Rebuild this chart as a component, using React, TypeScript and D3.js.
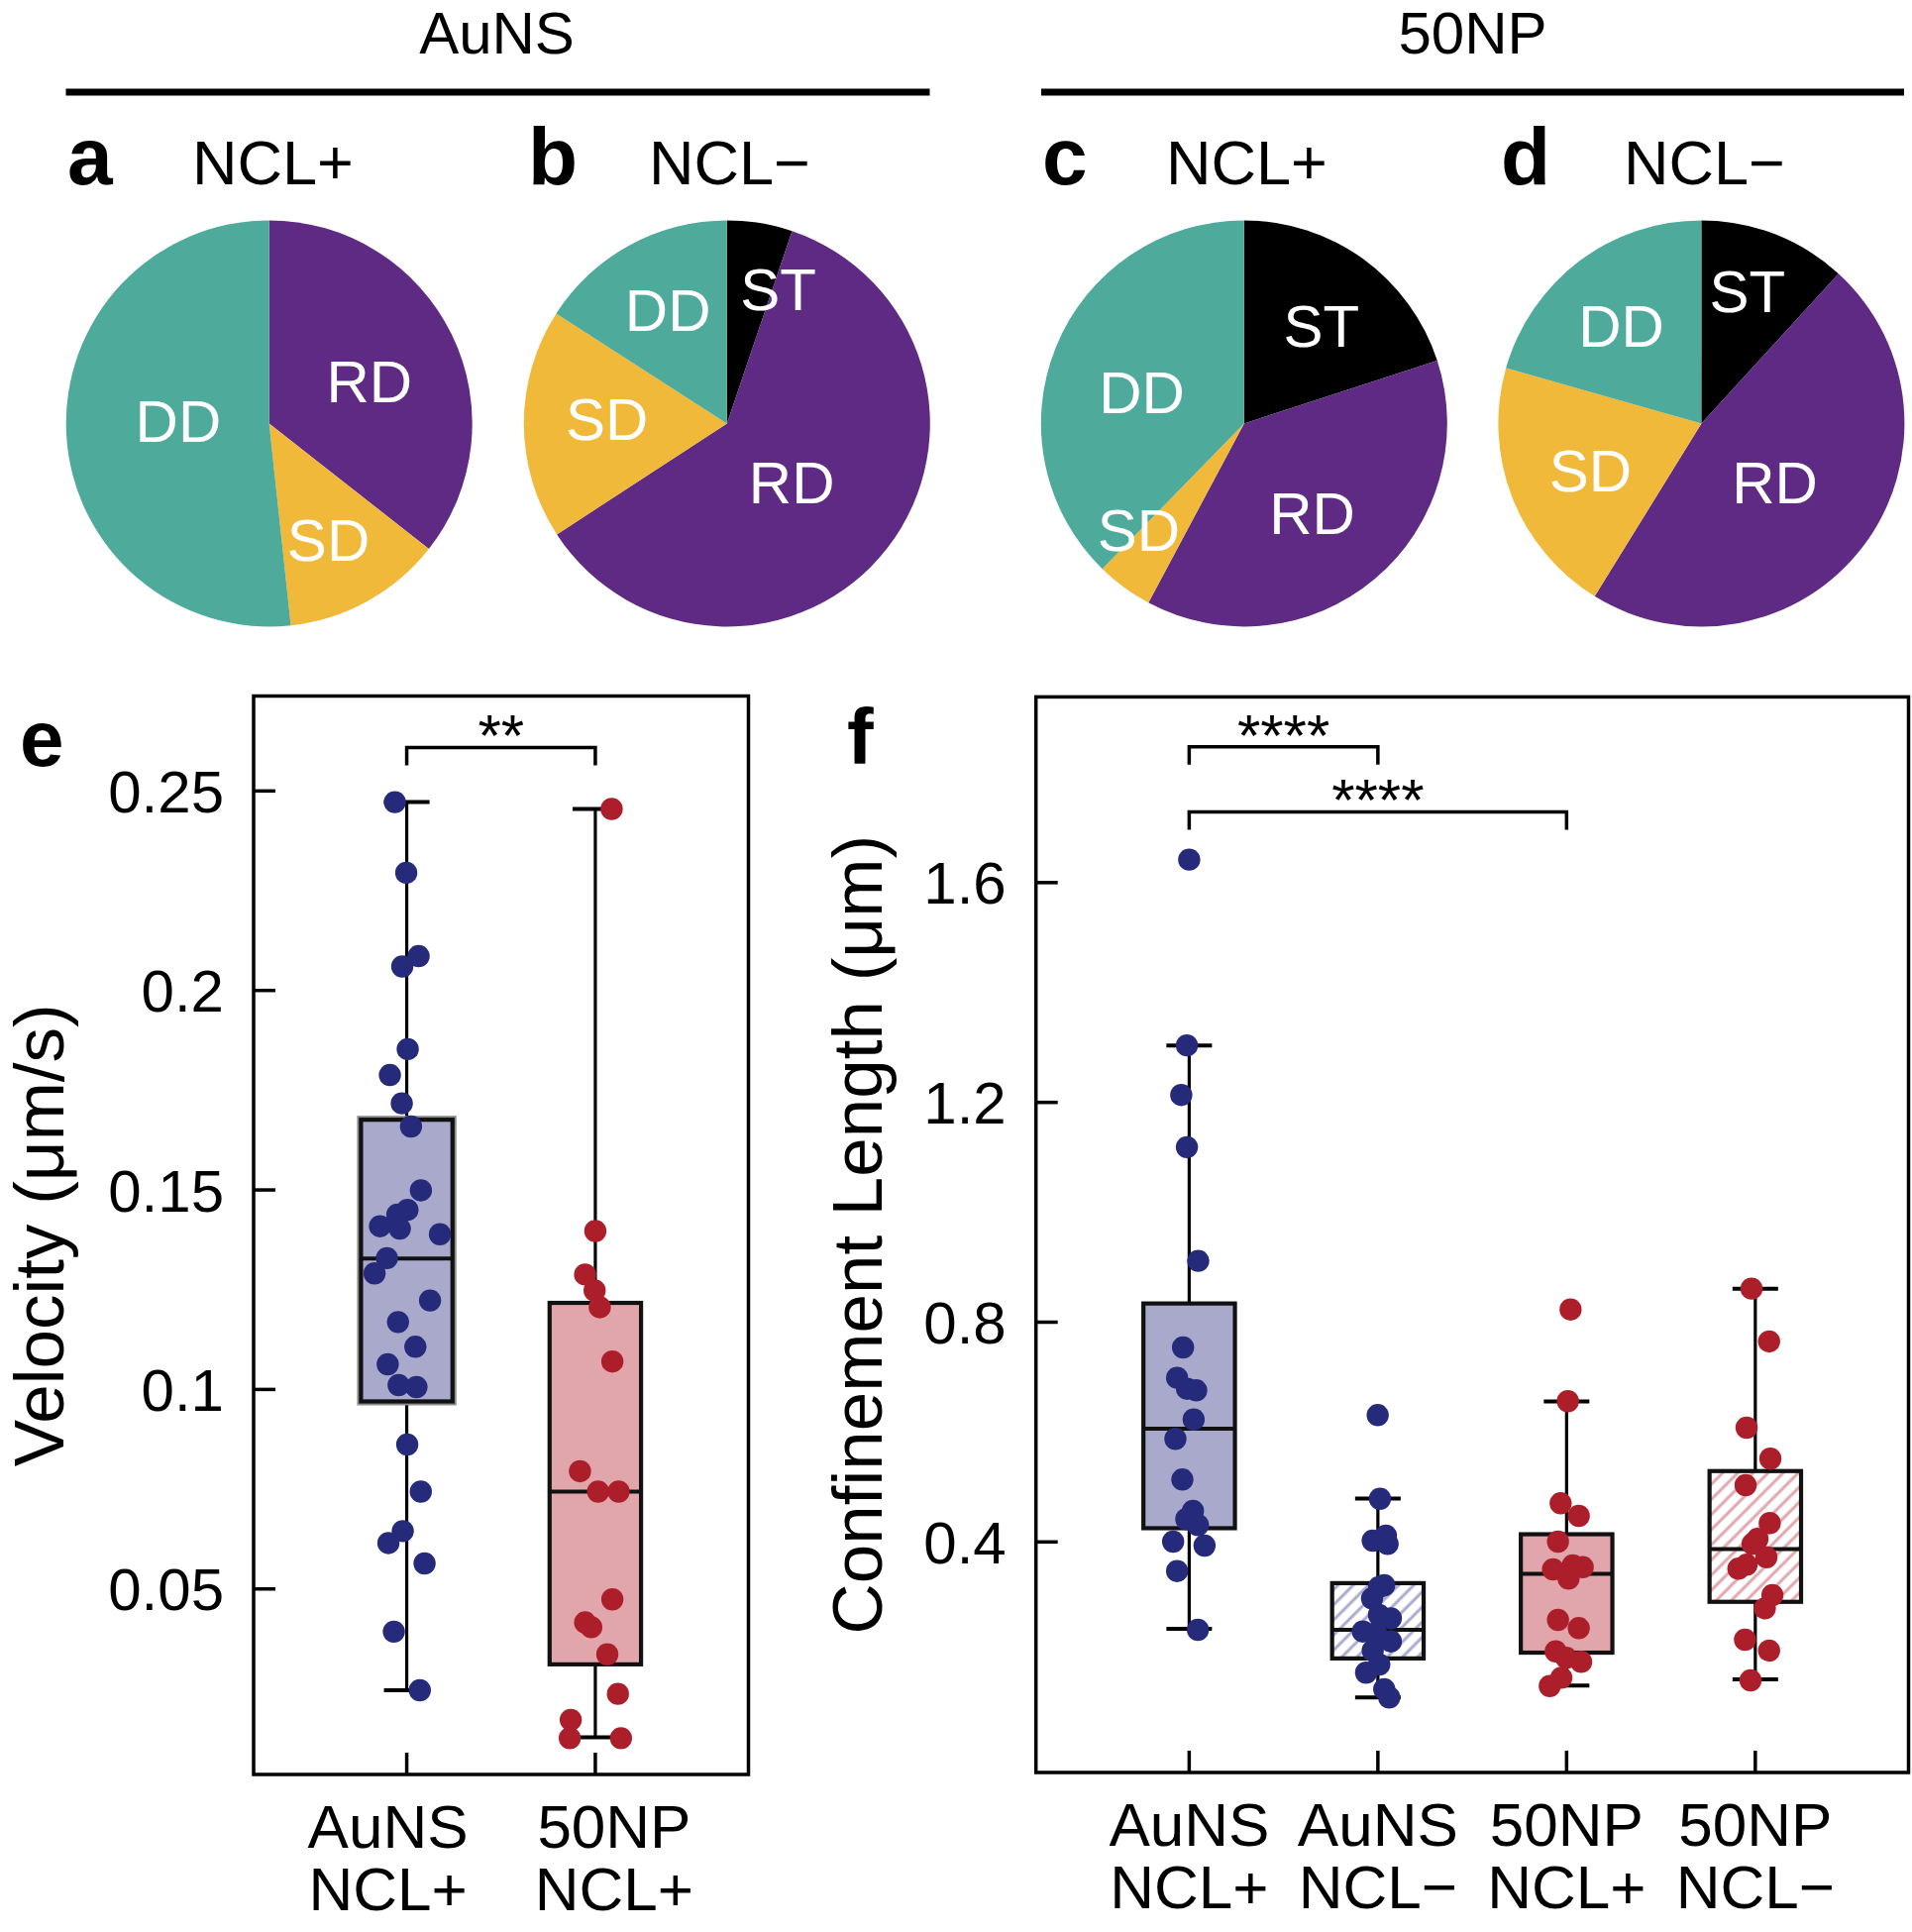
import React from 'react';
import * as d3 from 'd3';

const W = 1930;
const H = 1950;
const FONT = '"Liberation Sans", Arial, Helvetica, sans-serif';

// ---------- Pie data (percent) ----------
const pieCategories = ['ST', 'RD', 'SD', 'DD'];
const pieGroupTitles = ['AuNS', '50NP'];
const piePanelLetters = ['a', 'b', 'c', 'd'];
const piePanelTitles = ['NCL+', 'NCL\u2212', 'NCL+', 'NCL\u2212'];
const pieAuNSPlus = [0, 35.6, 12.7, 51.7];
const pieAuNSMinus = [5.2, 60.6, 18.3, 15.9];
const pie50NPPlus = [20.0, 37.8, 4.5, 37.7];
const pie50NPMinus = [11.8, 47.0, 20.6, 20.6];

// ---------- Velocity (panel e) ----------
const veloCategories = ['AuNS NCL+', '50NP NCL+'];
const veloAuNSPlus = [0.2472, 0.2295, 0.2086, 0.206, 0.1853, 0.1788, 0.1717, 0.1659, 0.1499, 0.145, 0.1438, 0.1409, 0.1403, 0.1389, 0.1329, 0.1291, 0.1223, 0.1169, 0.1107, 0.1063, 0.1011, 0.1006, 0.0862, 0.0744, 0.0645, 0.0615, 0.0564, 0.0393, 0.0246];
const velo50NPPlus = [0.2455, 0.1397, 0.1288, 0.1248, 0.1206, 0.107, 0.0795, 0.0744, 0.0744, 0.0474, 0.0416, 0.0404, 0.0336, 0.0237, 0.0172, 0.0126, 0.0126];
// [low whisker, Q1, median, Q3, high whisker]
const veloStats = [
  [0.0246, 0.097, 0.1328, 0.1676, 0.2472],
  [0.0128, 0.0311, 0.0744, 0.1217, 0.2455],
];
const veloTicks = [0.05, 0.1, 0.15, 0.2, 0.25];
const veloTickLabels = ['0.05', '0.1', '0.15', '0.2', '0.25'];

// ---------- Confinement length (panel f) ----------
const confCategories = ['AuNS NCL+', 'AuNS NCL\u2212', '50NP NCL+', '50NP NCL\u2212'];
const confAuNSPlus = [1.6418, 1.3037, 1.2135, 1.1185, 0.9116, 0.754, 0.6987, 0.6788, 0.6759, 0.6229, 0.5876, 0.5136, 0.4566, 0.4415, 0.4307, 0.4005, 0.3933, 0.347, 0.24];
const confAuNSMinus = [0.6308, 0.4786, 0.4114, 0.4024, 0.3964, 0.3212, 0.3176, 0.2972, 0.2671, 0.2611, 0.237, 0.2341, 0.219, 0.2022, 0.177, 0.162, 0.1319, 0.117];
const conf50NPPlus = [0.8231, 0.6561, 0.4703, 0.4474, 0.4005, 0.35, 0.3572, 0.3542, 0.3333, 0.2581, 0.2431, 0.2009, 0.189, 0.1818, 0.1529, 0.1378];
const conf50NPMinus = [0.861, 0.7649, 0.6079, 0.5515, 0.5033, 0.4343, 0.4054, 0.3964, 0.3722, 0.3585, 0.3513, 0.3032, 0.2792, 0.222, 0.2022, 0.1481];
const confStats = [
  [0.242, 0.425, 0.606, 0.834, 1.3037],
  [0.117, 0.188, 0.24, 0.325, 0.479],
  [0.1386, 0.1985, 0.342, 0.414, 0.6555],
  [0.15, 0.291, 0.387, 0.529, 0.861],
];
const confTicks = [0.4, 0.8, 1.2, 1.6];
const confTickLabels = ['0.4', '0.8', '1.2', '1.6'];

// significance brackets: [from index, to index, level, label]
const veloBrackets: [number, number, number, string][] = [[0, 1, 0.2609, '**']];
const confBrackets: [number, number, number, string][] = [
  [0, 1, 1.8472, '****'],
  [0, 2, 1.7288, '****'],
];

// horizontal jitter of points (px)
const jitVeloAuNSPlus = [-12, -0.5, 12, -4.5, 1, -17, -5, 4.3, 14.3, 0.7, -9.5, -27, -7, 33.5, -20, -32.5, 23.5, -8.8, 8.7, -19.2, -8.2, 9.8, 0.5, 14.2, -4, -18.5, 18, -13, 13.2];
const jitVelo50NPPlus = [16.5, 0, -10.3, -0.7, 4.5, 17.2, -15.5, 2.8, 23.5, 17.2, -10.3, -4.1, 12.1, 22.8, -24.8, -25.8, 25.9];
const jitConfAuNSPlus = [0, -2.3, -8, -2.3, 9.1, -6.2, -12.2, -2.2, 7.1, 4.5, -13.9, -6.9, 3.8, -2.9, 8.8, -16.2, 15.5, -12.2, 8.8];
const jitConfAuNSMinus = [-0.2, 2.1, 8.1, -5.2, 9.8, 6.4, 1.1, -5.9, 1.1, 13.1, -15.2, -1.9, 13.1, -5.2, 1.4, -11.9, 6.4, 11.4];
const jitConf50NPPlus = [4, 1.3, -6, 12.3, -8.7, -13.7, 6.3, 16.3, 2, -8.7, 12.3, -11, -0.3, 14.7, -5.3, -17];
const jitConf50NPMinus = [-3.8, 13.9, -8.8, 15.2, -9.8, 14.6, 2.2, -2.8, 11.2, -8.8, -17.1, 17.2, 9.6, -10.4, 13.9, -4.8];

// ---------- styles / layout ----------
const pieColors: Record<string, string> = { ST: '#000000', RD: '#5e2a84', SD: '#f1b93a', DD: '#4eaa9a' };
const BLUE = '#262a7b';
const RED = '#ad1e2b';
const BLUE_FILL = '#a9aacb';
const RED_FILL = '#e0a6ab';
// label placement inside slices: [angle (deg, clockwise from top), radius fraction]
const pieLabelPlacement: Record<string, [number, number]>[] = [
  { RD: [67, 0.536], SD: [153, 0.643], DD: [272, 0.448] },
  { ST: [20.8, 0.712], RD: [132, 0.429], SD: [272.6, 0.591], DD: [332.7, 0.634] },
  { ST: [38.3, 0.615], RD: [142.7, 0.554], SD: [224.9, 0.736], DD: [287.4, 0.528] },
  { ST: [19.1, 0.694], RD: [128.5, 0.462], SD: [247.4, 0.592], DD: [320.8, 0.624] },
];

function Pie({ cx, cy, r, values, placement }: { cx: number; cy: number; r: number; values: number[]; placement: Record<string, [number, number]> }) {
  const data = pieCategories.map((c, i) => ({ cat: c, value: values[i] }));
  const arcs = d3.pie<{ cat: string; value: number }>().sort(null).value((d) => d.value)(data);
  const arcGen = d3.arc<d3.PieArcDatum<{ cat: string; value: number }>>().innerRadius(0).outerRadius(r);
  return (
    <g transform={`translate(${cx},${cy})`}>
      {arcs.filter((a) => a.data.value > 0).map((a) => (
        <path key={a.data.cat} d={arcGen(a) || ''} fill={pieColors[a.data.cat]} />
      ))}
      {arcs.filter((a) => a.data.value > 0).map((a) => {
        const p = placement[a.data.cat];
        if (!p) return null;
        const ang = (p[0] * Math.PI) / 180;
        const x = Math.sin(ang) * p[1] * r;
        const y = -Math.cos(ang) * p[1] * r;
        return (
          <text key={'t' + a.data.cat} x={x} y={y} dy="0.36em" textAnchor="middle" fill="#fff" fontSize={60} fontFamily={FONT}>
            {a.data.cat}
          </text>
        );
      })}
    </g>
  );
}

type Series = { values: number[]; jitter: number[]; color: string; fill: string; hatch: boolean; halo: boolean };

function BoxPanel({
  left, right, top, bottom, domain, categories, series, stats, ticks, tickLabels, brackets, title, titleX, letter, letterX, letterY, labelOffsets,
}: {
  left: number; right: number; top: number; bottom: number; domain: [number, number]; categories: string[]; series: Series[]; stats: number[][];
  ticks: number[]; tickLabels: string[]; brackets: [number, number, number, string][]; title: string; titleX: number; letter: string; letterX: number; letterY: number; labelOffsets: number[];
}) {
  const y = d3.scaleLinear().domain(domain).range([bottom, top]);
  const x = d3.scalePoint<string>().domain(categories).range([left, right]).padding(0.812);
  const step = x.step();
  const boxW = step * 0.485;
  const capW = 46;
  const tickLen = 22;
  const cy = (top + bottom) / 2;
  return (
    <g fontFamily={FONT}>
      {/* whiskers */}
      {stats.map((s, i) => {
        const cx = x(categories[i]) as number;
        return (
          <g key={'w' + i} stroke="#000" strokeWidth={3.2}>
            <line x1={cx} x2={cx} y1={y(s[0])} y2={y(s[1])} />
            <line x1={cx} x2={cx} y1={y(s[3])} y2={y(s[4])} />
            <line x1={cx - capW / 2} x2={cx + capW / 2} y1={y(s[0])} y2={y(s[0])} strokeWidth={4} />
            <line x1={cx - capW / 2} x2={cx + capW / 2} y1={y(s[4])} y2={y(s[4])} strokeWidth={4} />
          </g>
        );
      })}
      {/* boxes */}
      {stats.map((s, i) => {
        const cx = x(categories[i]) as number;
        const se = series[i];
        const bx = cx - boxW / 2;
        const by = y(s[3]);
        const bh = y(s[1]) - y(s[3]);
        return (
          <g key={'b' + i}>
            {se.halo && <rect x={bx} y={by} width={boxW} height={bh} fill="none" stroke="#8a8a8a" strokeWidth={8} />}
            <rect x={bx} y={by} width={boxW} height={bh} fill={se.hatch ? '#fff' : se.fill} />
            {se.hatch && <rect x={bx} y={by} width={boxW} height={bh} fill={`url(#hatch${i})`} />}
            <rect x={bx} y={by} width={boxW} height={bh} fill="none" stroke="#111" strokeWidth={4.2} />
            <line x1={bx} x2={bx + boxW} y1={y(s[2])} y2={y(s[2])} stroke="#111" strokeWidth={4} />
          </g>
        );
      })}
      {/* points */}
      {series.map((se, i) => {
        const cx = x(categories[i]) as number;
        return (
          <g key={'p' + i} fill={se.color}>
            {se.values.map((v, j) => (
              <circle key={j} cx={cx + se.jitter[j]} cy={y(v)} r={11.2} />
            ))}
          </g>
        );
      })}
      {/* frame */}
      <rect x={left} y={top} width={right - left} height={bottom - top} fill="none" stroke="#000" strokeWidth={3.5} />
      {/* y ticks */}
      {ticks.map((t, i) => (
        <g key={'yt' + i}>
          <line x1={left} x2={left + tickLen} y1={y(t)} y2={y(t)} stroke="#000" strokeWidth={3.5} />
          <text x={left - 30} y={y(t)} dy="0.36em" textAnchor="end" fontSize={60} fill="#000">
            {tickLabels[i]}
          </text>
        </g>
      ))}
      {/* x ticks */}
      {categories.map((c, i) => {
        const cx = x(c) as number;
        const parts = c.split(' ');
        return (
          <g key={'xt' + i}>
            <line x1={cx} x2={cx} y1={bottom} y2={bottom - tickLen} stroke="#000" strokeWidth={3.5} />
            <text x={cx + labelOffsets[i]} y={bottom + 74} textAnchor="middle" fontSize={62} fill="#000">
              {parts[0]}
            </text>
            <text x={cx + labelOffsets[i]} y={bottom + 137} textAnchor="middle" fontSize={62} fill="#000">
              {parts[1]}
            </text>
          </g>
        );
      })}
      {/* brackets */}
      {brackets.map((b, i) => {
        const x1 = x(categories[b[0]]) as number;
        const x2 = x(categories[b[1]]) as number;
        const yy = y(b[2]);
        return (
          <g key={'br' + i}>
            <path d={`M${x1},${yy + 18}V${yy}H${x2}V${yy + 18}`} fill="none" stroke="#000" strokeWidth={3.5} />
            <text x={(x1 + x2) / 2} y={yy + 9} textAnchor="middle" fontSize={60} fill="#000">
              {b[3]}
            </text>
          </g>
        );
      })}
      {/* axis title */}
      <text transform={`translate(${titleX},${cy}) rotate(-90)`} textAnchor="middle" fontSize={71} fill="#000">
        {title}
      </text>
      <text x={letterX} y={letterY} fontSize={80} fontWeight="bold" fill="#000">
        {letter}
      </text>
    </g>
  );
}

export default function App() {
  const pieValues = [pieAuNSPlus, pieAuNSMinus, pie50NPPlus, pie50NPMinus];
  const pieCx = [271.7, 733.8, 1255.8, 1717.4];
  const pieCy = 427.4;
  const pieR = 205;
  const letterX = [68, 533, 1052, 1515];
  const titleX = [194, 655, 1177, 1639];

  const veloSeries: Series[] = [
    { values: veloAuNSPlus, jitter: jitVeloAuNSPlus, color: BLUE, fill: BLUE_FILL, hatch: false, halo: true },
    { values: velo50NPPlus, jitter: jitVelo50NPPlus, color: RED, fill: RED_FILL, hatch: false, halo: false },
  ];
  const confSeries: Series[] = [
    { values: confAuNSPlus, jitter: jitConfAuNSPlus, color: BLUE, fill: BLUE_FILL, hatch: false, halo: false },
    { values: confAuNSMinus, jitter: jitConfAuNSMinus, color: BLUE, fill: BLUE_FILL, hatch: true, halo: false },
    { values: conf50NPPlus, jitter: jitConf50NPPlus, color: RED, fill: RED_FILL, hatch: false, halo: false },
    { values: conf50NPMinus, jitter: jitConf50NPMinus, color: RED, fill: RED_FILL, hatch: true, halo: false },
  ];

  return (
    <svg width={W} height={H} viewBox={`0 0 ${W} ${H}`} style={{ position: 'absolute', left: 0, top: 0, background: '#fff' }} fontFamily={FONT}>
      <defs>
        {confSeries.map((s, i) => (
          <pattern key={i} id={`hatch${i}`} patternUnits="userSpaceOnUse" width={10.8} height={10.8} patternTransform="rotate(45)">
            <line x1={2} x2={2} y1={0} y2={10.8} stroke={s.fill} strokeWidth={3} />
          </pattern>
        ))}
      </defs>
      <rect x={0} y={0} width={W} height={H} fill="#fff" />

      {/* group headers */}
      <text x={501.5} y={54} textAnchor="middle" fontSize={60}>{pieGroupTitles[0]}</text>
      <text x={1486.5} y={54} textAnchor="middle" fontSize={60}>{pieGroupTitles[1]}</text>
      <line x1={66.5} x2={938.5} y1={93} y2={93} stroke="#000" strokeWidth={7} />
      <line x1={1051} x2={1922} y1={93} y2={93} stroke="#000" strokeWidth={7} />

      {pieValues.map((v, i) => (
        <g key={i}>
          <text x={letterX[i]} y={185.5} fontSize={82} fontWeight="bold">{piePanelLetters[i]}</text>
          <text x={titleX[i]} y={185.5} fontSize={63}>{piePanelTitles[i]}</text>
          <Pie cx={pieCx[i]} cy={pieCy} r={pieR} values={v} placement={pieLabelPlacement[i]} />
        </g>
      ))}

      <BoxPanel
        left={256} right={755.5} top={702.5} bottom={1791}
        domain={[0.0035, 0.2738]}
        categories={veloCategories}
        series={veloSeries}
        stats={veloStats}
        ticks={veloTicks}
        tickLabels={veloTickLabels}
        brackets={veloBrackets}
        title={'Velocity (\u03bcm/s)'}
        titleX={64}
        letter="e"
        letterX={20}
        letterY={773}
        labelOffsets={[-19, 19]}
      />
      <BoxPanel
        left={1045.7} right={1926.5} top={703.4} bottom={1789}
        domain={[-0.0196, 1.938]}
        categories={confCategories}
        series={confSeries}
        stats={confStats}
        ticks={confTicks}
        tickLabels={confTickLabels}
        brackets={confBrackets}
        title={'Confinement Length (\u03bcm)'}
        titleX={890}
        letter="f"
        letterX={855}
        letterY={771}
        labelOffsets={[0, 0, 0, 0]}
      />
    </svg>
  );
}
